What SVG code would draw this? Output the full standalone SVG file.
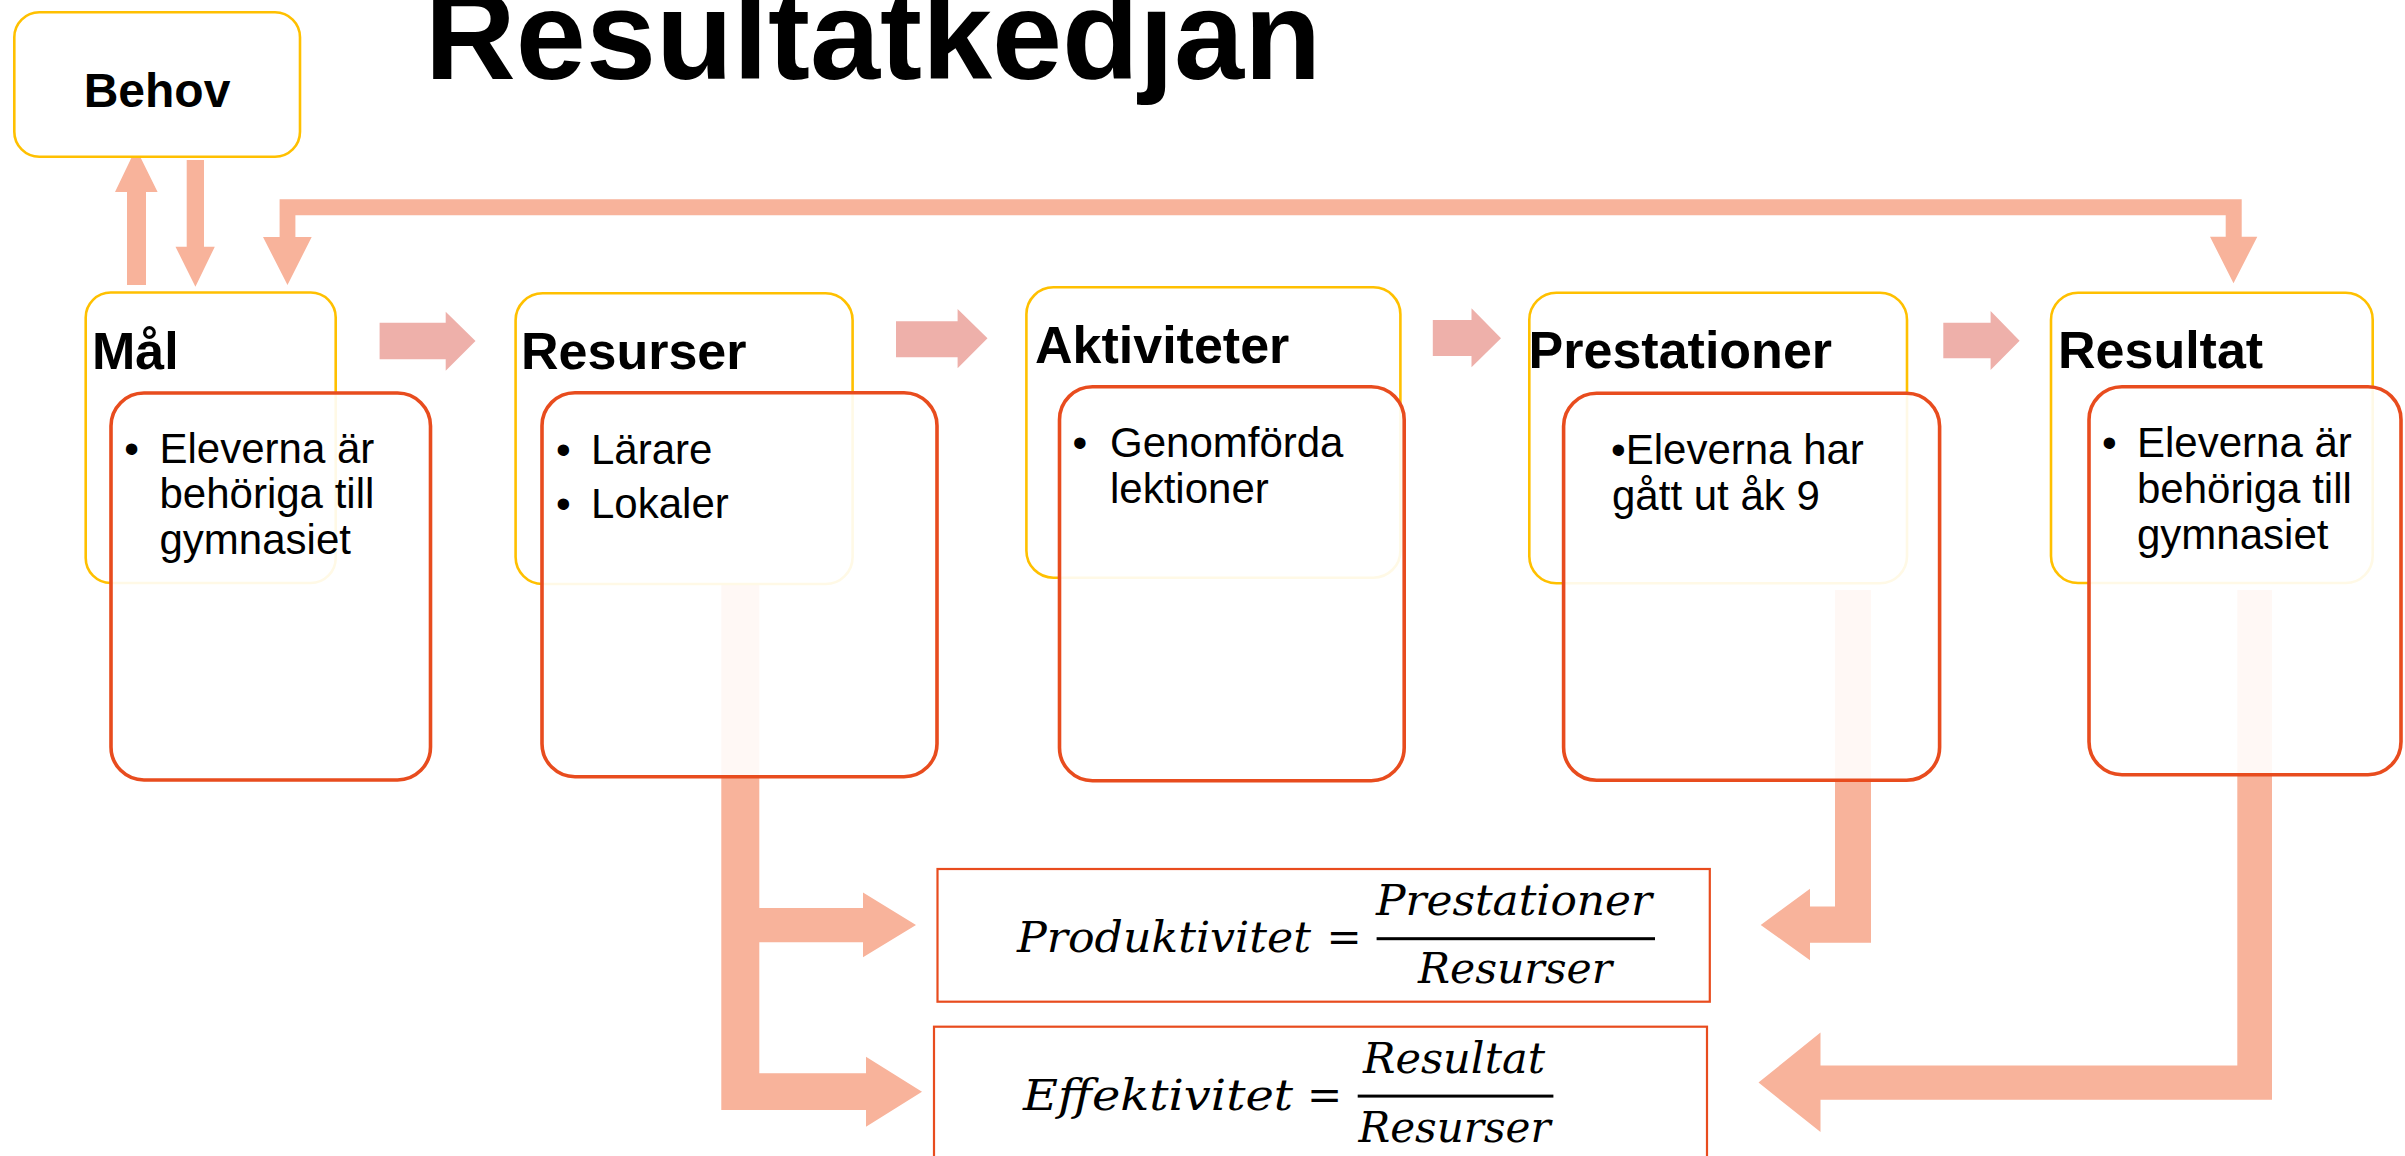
<svg xmlns="http://www.w3.org/2000/svg" width="2405" height="1156" viewBox="0 0 2405 1156">
  <style>
    .title { font-family: "Liberation Sans", Arial, sans-serif; font-weight: bold; font-size: 126px; fill: #000; }
    .head { font-family: "Liberation Sans", Arial, sans-serif; font-weight: bold; font-size: 52px; fill: #000; }
    .body { font-family: "Liberation Sans", Arial, sans-serif; font-size: 42px; fill: #000; }
    .math { font-family: "DejaVu Serif", "Liberation Serif", serif; font-style: italic; font-size: 42px; fill: #000; }
    .outer { fill: #fff; stroke: #FFC000; stroke-width: 2.6; }
    .inner { fill: #fff; fill-opacity: 0.9; stroke: #E84C1E; stroke-width: 3.6; }
    .formula { fill: #fff; stroke: #E84C1E; stroke-width: 2.2; }
    .link { fill: #F8B39B; }
    .step { fill: #EEB0AA; }
  </style>

  <!-- title -->
  <text class="title" x="873" y="79" text-anchor="middle">Resultatkedjan</text>

  <!-- connectors, drawn under the boxes -->
  <g id="connectors">
    <!-- Mål <-> Behov -->
    <polygon class="link" points="127,285 146,285 146,192 157.6,192 136,148.3 115,192 127,192"/>
    <polygon class="link" points="186.7,160 204,160 204,246.7 214.8,246.7 195.4,286.7 175.5,246.7 186.7,246.7"/>
    <!-- Resultat feedback to Mål -->
    <polygon class="link" points="279.6,199.3 2241.7,199.3 2241.7,236.7 2257.3,236.7 2233.5,283.3 2210,236.7 2225.7,236.7 2225.7,215.3 295.4,215.3 295.4,237 311.7,237 287.5,285 263,237 279.6,237"/>
    <!-- chain arrows -->
    <polygon class="step" points="379.6,322.7 445.7,322.7 445.7,311.7 475.5,341 445.7,370.7 445.7,359.3 379.6,359.3"/>
    <polygon class="step" points="896,321.3 957.6,321.3 957.6,309 987.5,338.3 957.6,368.3 957.6,357.3 896,357.3"/>
    <polygon class="step" points="1432.8,320 1471.5,320 1471.5,308.3 1501,338.3 1471.5,367.3 1471.5,356 1432.8,356"/>
    <polygon class="step" points="1943.3,322.7 1990.6,322.7 1990.6,311 2019.6,340.7 1990.6,370 1990.6,358.3 1943.3,358.3"/>
    <!-- Resurser to both ratios -->
    <polygon class="link" points="721.3,585 759.3,585 759.3,908 863,908 863,892.5 916,925 863,957.3 863,942.3 759.3,942.3 759.3,1073.3 866,1073.3 866,1056.7 922,1091.7 866,1126.7 866,1110 721.3,1110"/>
    <!-- Prestationer to Produktivitet -->
    <polygon class="link" points="1835,590 1871,590 1871,942.7 1810,942.7 1810,960.2 1760.7,925 1810,888.8 1810,906.6 1835,906.6"/>
    <!-- Resultat to Effektivitet -->
    <polygon class="link" points="2237.3,590 2272,590 2272,1099.7 1820.5,1099.7 1820.5,1132 1758.5,1082.6 1820.5,1032.5 1820.5,1065.5 2237.3,1065.5"/>
  </g>

  <g id="behov">
    <rect class="outer" x="14.3" y="12.3" width="285.7" height="144.4" rx="25"/>
    <text class="head" x="157" y="107" text-anchor="middle" style="font-size:48px">Behov</text>
  </g>

  <g id="mal">
    <rect class="outer" x="85.7" y="292.5" width="250" height="290.5" rx="25"/>
    <text class="head" x="92" y="369">Mål</text>
    <rect class="inner" x="111" y="393" width="319.5" height="387" rx="33"/>
    <text class="body" x="124.3" y="462.7">•</text>
    <text class="body" x="159.5" y="462.7">Eleverna är</text>
    <text class="body" x="159.5" y="508.3">behöriga till</text>
    <text class="body" x="159.5" y="554">gymnasiet</text>
  </g>

  <g id="resurser">
    <rect class="outer" x="515.6" y="293.3" width="337" height="290.7" rx="27"/>
    <text class="head" x="521" y="369.3">Resurser</text>
    <rect class="inner" x="542" y="392.7" width="395" height="384" rx="33"/>
    <text class="body" x="556" y="464.3">•</text>
    <text class="body" x="591" y="464.3">Lärare</text>
    <text class="body" x="556" y="518.3">•</text>
    <text class="body" x="591" y="518.3">Lokaler</text>
  </g>

  <g id="aktiviteter">
    <rect class="outer" x="1026.4" y="287.3" width="374" height="290.4" rx="27"/>
    <text class="head" x="1035" y="363.3">Aktiviteter</text>
    <rect class="inner" x="1059.5" y="386.7" width="344.7" height="394" rx="33"/>
    <text class="body" x="1072.5" y="456.7">•</text>
    <text class="body" x="1110" y="456.7">Genomförda</text>
    <text class="body" x="1110" y="502.7">lektioner</text>
  </g>

  <g id="prestationer">
    <rect class="outer" x="1529.3" y="292.7" width="377.7" height="290.6" rx="27"/>
    <text class="head" x="1528.6" y="368.3">Prestationer</text>
    <rect class="inner" x="1563.6" y="393.3" width="376" height="387" rx="33"/>
    <text class="body" x="1611" y="464">•Eleverna har</text>
    <text class="body" x="1612" y="510">gått ut åk 9</text>
  </g>

  <g id="resultat">
    <rect class="outer" x="2051" y="292.7" width="321.7" height="290.3" rx="27"/>
    <text class="head" x="2058" y="368.3">Resultat</text>
    <rect class="inner" x="2089" y="386.7" width="312" height="388" rx="33"/>
    <text class="body" x="2102" y="457.3">•</text>
    <text class="body" x="2137" y="457.3">Eleverna är</text>
    <text class="body" x="2137" y="503.3">behöriga till</text>
    <text class="body" x="2137" y="549.3">gymnasiet</text>
  </g>

  <g id="produktivitet">
    <rect class="formula" x="937.5" y="869" width="772.3" height="132.7"/>
    <text class="math" x="1017" y="951.7" textLength="294" lengthAdjust="spacingAndGlyphs">Produktivitet</text>
    <text class="math" x="1344" y="951.7" text-anchor="middle" style="font-style:normal">=</text>
    <rect x="1376.6" y="937.2" width="278.4" height="3" fill="#000"/>
    <text class="math" x="1376" y="915" textLength="276" lengthAdjust="spacingAndGlyphs">Prestationer</text>
    <text class="math" x="1418" y="983.3" textLength="194" lengthAdjust="spacingAndGlyphs">Resurser</text>
  </g>

  <g id="effektivitet">
    <rect class="formula" x="934" y="1026.7" width="773" height="140"/>
    <text class="math" x="1023" y="1110" textLength="270" lengthAdjust="spacingAndGlyphs">Effektivitet</text>
    <text class="math" x="1324.7" y="1110" text-anchor="middle" style="font-style:normal">=</text>
    <rect x="1357.7" y="1094.6" width="195.7" height="3" fill="#000"/>
    <text class="math" x="1363" y="1073.3" textLength="182" lengthAdjust="spacingAndGlyphs">Resultat</text>
    <text class="math" x="1358.5" y="1141.7" textLength="192" lengthAdjust="spacingAndGlyphs">Resurser</text>
  </g>
</svg>
